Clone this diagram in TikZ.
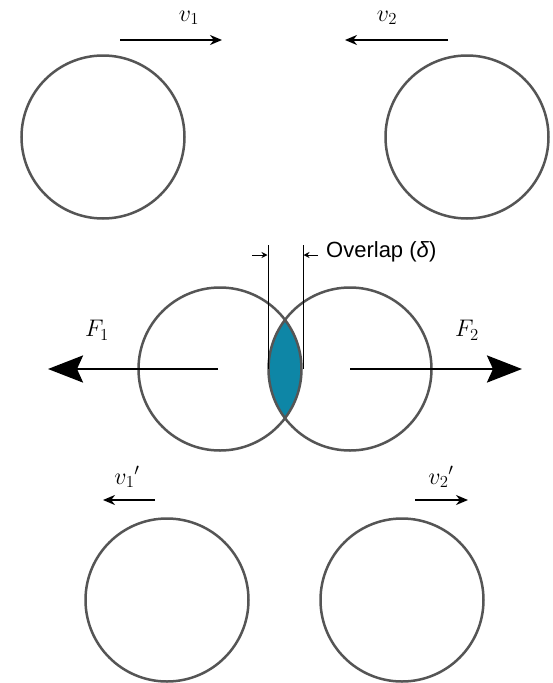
\RequirePackage{fix-cm}
\documentclass[tikz,border=0pt]{standalone}
\usepackage{fontspec}
\newfontfamily\labelfont{Liberation Sans}
\usetikzlibrary{arrows.meta}
\definecolor{ringgray}{RGB}{85,85,85}
\definecolor{lensteal}{RGB}{14,134,166}
\tikzset{
  ball/.style={circle, draw=ringgray, line width=2.5pt, minimum size=163pt, inner sep=0pt},
  velarrow/.style={line width=2pt, -{Stealth[length=12pt,width=10pt]}},
  forcearrow/.style={line width=2.8pt, -{Stealth[length=35pt,width=27pt,inset=6pt]}},
  dimline/.style={line width=1pt},
  dimarrow/.style={line width=1pt, -{Stealth[length=6pt,width=6pt]}},
  mlabel/.style={inner sep=0pt, font=\fontsize{24}{28}\selectfont}
}
\begin{document}
\begin{tikzpicture}[x=1pt,y=-1pt]
\useasboundingbox (0,0) rectangle (553,683);
% top pair
\node[ball] (c1) at (103,137) {};
\node[ball] (c2) at (467,137) {};
\coordinate (v1s) at (120,40); \coordinate (v1e) at (222,40);
\coordinate (v2s) at (448,40); \coordinate (v2e) at (345,40);
\draw[velarrow] (v1s) -- (v1e);
\draw[velarrow] (v2s) -- (v2e);
\node[mlabel] (lv1) at (189,18) {$v_1$};
\node[mlabel] (lv2) at (387,18) {$v_2$};
% colliding pair
\begin{scope}
  \clip (220,369) circle (82);
  \fill[lensteal] (350,369) circle (82);
\end{scope}
\node[ball] (m1) at (220,369) {};
\node[ball] (m2) at (350,369) {};
\coordinate (f1s) at (218,369); \coordinate (f1e) at (48,369);
\coordinate (f2s) at (350,369); \coordinate (f2e) at (522,369);
\draw[forcearrow] (f1s) -- (f1e);
\draw[forcearrow] (f2s) -- (f2e);
\node[mlabel] (lf1) at (97,330) {$F_1$};
\node[mlabel] (lf2) at (467,330) {$F_2$};
% overlap dimension
\coordinate (d1t) at (268,245); \coordinate (d1b) at (268,369);
\coordinate (d2t) at (303,245); \coordinate (d2b) at (303,369);
\draw[dimline] (d1t) -- (d1b);
\draw[dimline] (d2t) -- (d2b);
\coordinate (a1s) at (252,255); \coordinate (a1e) at (267.5,255);
\coordinate (a2s) at (318,255); \coordinate (a2e) at (303.5,255);
\draw[dimarrow] (a1s) -- (a1e);
\draw[dimarrow] (a2s) -- (a2e);
\node[anchor=west, inner sep=0pt, font=\labelfont\fontsize{22}{26}\selectfont] (ov) at (326,252) {Overlap (\textit{δ})};
% bottom pair
\node[ball] (b1) at (167,600) {};
\node[ball] (b2) at (402,600) {};
\coordinate (w1s) at (155,500); \coordinate (w1e) at (103,500);
\coordinate (w2s) at (415,500); \coordinate (w2e) at (468,500);
\draw[velarrow] (w1s) -- (w1e);
\draw[velarrow] (w2s) -- (w2e);
\node[mlabel] (lw1) at (127,477) {$v_1{}'$};
\node[mlabel] (lw2) at (441,477) {$v_2{}'$};
\end{tikzpicture}
\end{document}
